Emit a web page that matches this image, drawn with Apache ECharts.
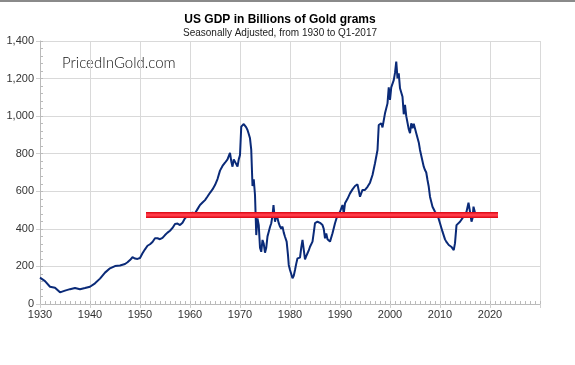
<!DOCTYPE html>
<html><head><meta charset="utf-8">
<script src="https://cdn.jsdelivr.net/npm/echarts@6/dist/echarts.min.js"></script>
<style>html,body{margin:0;padding:0;background:#fff}#c{width:575px;height:365px}</style>
</head><body><div id="c"></div>
<script>
const years = [1930,1931,1932,1933,1934,1935,1936,1937,1938,1939,1940,1941,1942,1943,1944,1945,1946,1947,1947.5,1948,1948.5,1949,1949.5,1950,1950.5,1951,1951.5,1952,1952.5,1953,1953.5,1954,1954.5,1955,1955.5,1956,1956.5,1957,1957.5,1958,1958.5,1959,1959.5,1960,1960.5,1961,1961.5,1962,1962.5,1963,1963.5,1964,1964.5,1965,1965.5,1966,1966.5,1967,1967.5,1968,1968.25,1968.5,1968.75,1969,1969.5,1969.75,1970,1970.25,1970.5,1970.75,1971,1971.25,1971.5,1971.75,1972,1972.25,1972.5,1972.75,1973,1973.25,1973.5,1973.75,1974,1974.25,1974.5,1974.75,1975,1975.25,1975.5,1975.75,1976,1976.25,1976.5,1976.7,1977,1977.25,1977.5,1977.75,1978,1978.25,1978.5,1978.75,1979,1979.33,1979.6,1979.75,1980,1980.25,1980.5,1980.75,1981,1981.25,1981.5,1981.75,1982,1982.25,1982.5,1982.75,1983,1983.25,1983.5,1983.75,1984,1984.25,1984.5,1984.75,1985,1985.5,1986,1986.5,1986.75,1987,1987.25,1987.5,1987.75,1988,1988.25,1988.5,1989,1989.5,1989.75,1990,1990.5,1990.75,1991,1991.5,1992,1992.5,1993,1993.5,1994,1994.5,1995,1995.5,1996,1996.5,1997,1997.5,1997.75,1998.25,1998.5,1999,1999.5,1999.75,2000,2000.25,2000.75,2001,2001.25,2001.5,2001.75,2002,2002.5,2002.75,2003,2003.25,2003.75,2004,2004.25,2004.5,2004.75,2005,2005.25,2005.75,2006,2006.5,2006.75,2007,2007.25,2007.5,2007.75,2008,2008.5,2008.75,2009,2009.5,2010,2010.5,2011,2011.25,2011.75,2012,2012.25,2012.5,2012.75,2013,2013.3,2013.7,2014,2014.3,2014.7,2015,2015.3,2015.7,2016,2016.3,2016.5,2016.7,2017,2017.25];
const gdp = [140,122,92,87,62,71,79,85,79,85,92,110,135,167,190,202,205,213,222,234,249,242,240,245,270,291,310,318,330,350,350,345,352,367,380,390,405,426,428,420,432,456,470,483,486,483,505,527,540,553,572,592,610,633,665,710,735,752,770,805,760,731,770,767,732,770,793,944,940,958,948,940,926,905,882,820,628,664,580,367,456,420,300,278,341,320,273,300,360,385,410,430,470,527,438,470,456,430,412,400,412,380,358,332,260,208,181,160,137,150,181,215,243,240,247,300,341,290,238,255,270,285,305,315,332,380,430,438,432,420,400,350,376,345,340,332,340,377,430,474,470,491,527,483,536,560,589,610,628,637,571,607,607,624,646,687,749,820,953,962,940,1015,1068,1153,1086,1153,1192,1230,1290,1201,1228,1148,1103,1010,1060,1000,930,909,962,935,960,953,909,860,820,760,731,713,700,660,624,571,518,518,491,474,430,385,344,332,314,320,305,310,287,324,420,420,438,430,465,474,491,539,491,438,456,518,486,483];
const avgYears = [1951.2, 2021.6];
const avgValue = 474;
const titleText = 'US GDP in Billions of Gold grams';
const subtitleText = 'Seasonally Adjusted, from 1930 to Q1-2017';
const watermark = 'PricedInGold.com';

const gdpData = years.map((y, i) => [y, gdp[i]]);
const avgData = avgYears.map(y => [y, avgValue]);
const fmt = v => v.toLocaleString('en-US');
const font = 'Liberation Sans, Arial, sans-serif';

const chart = echarts.init(document.getElementById('c'), null, {renderer: 'canvas'});
chart.setOption({
  animation: false,
  backgroundColor: '#fff',
  title: [
    {text: titleText, left: 275, top: 9, textAlign: 'center',
     textStyle: {fontFamily: font, fontSize: 12, fontWeight: 'bold', color: '#000'}},
    {text: subtitleText, left: 275, top: 23, textAlign: 'center',
     textStyle: {fontFamily: font, fontSize: 10, fontWeight: 'normal', color: '#222'}}
  ],
  graphic: [
    {type: 'rect', left: 0, top: 0, shape: {width: 575, height: 2}, style: {fill: '#8a8a8a'}},
    {type: 'text', left: 62, top: 56, style: {text: watermark, fontFamily: 'Lato, sans-serif', fontWeight: 300, fontSize: 15, fill: '#111'}}
  ],
  grid: {left: 40, right: 35, top: 41, bottom: 61, containLabel: false},
  xAxis: [{
    type: 'value', min: 1930, max: 2030, interval: 10,
    axisLine: {show: true, lineStyle: {color: '#bbb'}},
    axisTick: {show: true, inside: true, length: 3, lineStyle: {color: '#bbb'}},
    minorTick: {show: true, splitNumber: 10, length: 3, lineStyle: {color: '#bbb'}},
    splitLine: {show: true, lineStyle: {color: '#d9d9d9'}},
    axisLabel: {fontFamily: font, fontSize: 11, color: '#333', margin: 5, showMaxLabel: false,
                formatter: v => (v >= 2030 ? '' : String(v))}
  }, {
    type: 'value', min: 1930, max: 2030, interval: 10, position: 'bottom',
    axisLine: {show: false},
    axisTick: {show: true, inside: false, length: 4, lineStyle: {color: '#d0d0d0'}},
    splitLine: {show: false}, axisLabel: {show: false}
  }],
  yAxis: [{
    type: 'value', min: 0, max: 1400, interval: 200,
    axisLine: {show: true, lineStyle: {color: '#bbb'}},
    axisTick: {show: true, inside: true, length: 3, lineStyle: {color: '#bbb'}},
    minorTick: {show: true, splitNumber: 5, length: 3, lineStyle: {color: '#bbb'}},
    splitLine: {show: true, lineStyle: {color: '#d9d9d9'}},
    axisLabel: {fontFamily: font, fontSize: 11, color: '#333', margin: 6, formatter: fmt}
  }, {
    type: 'value', min: 0, max: 1400, interval: 200, position: 'left',
    axisLine: {show: false},
    axisTick: {show: true, inside: false, length: 4, lineStyle: {color: '#d0d0d0'}},
    splitLine: {show: false}, axisLabel: {show: false}
  }],
  series: [
    {type: 'line', data: gdpData, symbol: 'none', xAxisIndex: 0, yAxisIndex: 0,
     lineStyle: {color: '#0a2a78', width: 2}, z: 3},
    {type: 'line', data: avgData, symbol: 'none', xAxisIndex: 0, yAxisIndex: 0,
     lineStyle: {color: '#e0101c', width: 6, cap: 'butt'}, z: 4},
    {type: 'line', data: avgData, symbol: 'none', xAxisIndex: 0, yAxisIndex: 0,
     lineStyle: {color: '#ff3a48', width: 3, cap: 'butt'}, z: 5}
  ]
});
</script></body></html>
